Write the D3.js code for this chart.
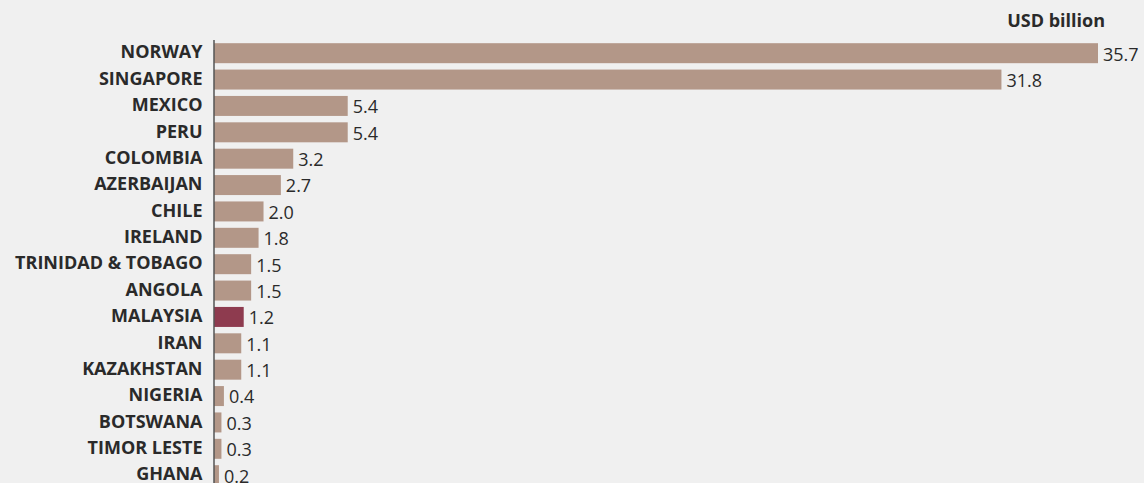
<!DOCTYPE html>
<html><head><meta charset="utf-8">
<script src="https://cdn.jsdelivr.net/npm/d3@7"></script>
<style>
html,body{margin:0;padding:0;background:#f0f0f0;}
svg{display:block;}
text{font-family:"Open Sans",sans-serif;}
</style></head>
<body>
<svg id="chart" width="1144" height="483"></svg>
<script>
const countries = ["NORWAY","SINGAPORE","MEXICO","PERU","COLOMBIA","AZERBAIJAN","CHILE","IRELAND","TRINIDAD & TOBAGO","ANGOLA","MALAYSIA","IRAN","KAZAKHSTAN","NIGERIA","BOTSWANA","TIMOR LESTE","GHANA"];
const values = [35.7,31.8,5.4,5.4,3.2,2.7,2.0,1.8,1.5,1.5,1.2,1.1,1.1,0.4,0.3,0.3,0.2];
const labels = ["35.7","31.8","5.4","5.4","3.2","2.7","2.0","1.8","1.5","1.5","1.2","1.1","1.1","0.4","0.3","0.3","0.2"];
const highlight = "MALAYSIA";
const unitLabel = "USD billion";

(function(){
const svg = d3.select("#chart");
const x0 = 214, plotTop = 40, step = 26.375;
const fs = 18;
const x = d3.scaleLinear().domain([0, 35.7]).range([x0, 1098]);
const y = d3.scaleBand().domain(countries).range([plotTop, plotTop + step*countries.length])
  .paddingInner(0.2417).paddingOuter(0.1208);

const data = countries.map((c,i)=>({c, v:values[i], l:labels[i]}));

svg.selectAll("rect.bar").data(data).join("rect")
  .attr("class","bar")
  .attr("x", x(0))
  .attr("y", d=>y(d.c))
  .attr("width", d=>x(d.v)-x(0))
  .attr("height", y.bandwidth())
  .attr("fill", d=> d.c===highlight ? "#8e3b4f" : "#b39788");

svg.selectAll("text.val").data(data).join("text")
  .attr("class","val")
  .attr("x", d=>x(d.v)+5)
  .attr("y", d=>y(d.c)+y.bandwidth()/2)
  .attr("dy","0.41em")
  .attr("font-size",fs)
  .attr("fill","#2a2a2a")
  .text(d=>d.l);

const yAxis = d3.axisLeft(y).tickSize(0).tickPadding(11.5);
const g = svg.append("g").attr("transform",`translate(${x0},0)`).call(yAxis);
g.select(".domain").remove();
g.selectAll("text").attr("font-size",fs).attr("font-weight","bold").attr("fill","#2a2a2a")
  .attr("font-family","'Open Sans',sans-serif").attr("dy","0.29em");

svg.append("line").attr("x1",x0).attr("x2",x0).attr("y1",plotTop).attr("y2",483)
  .attr("stroke","#555").attr("stroke-width",1.5);

svg.append("text").attr("x",1105).attr("y",26.5).attr("text-anchor","end")
  .attr("font-size",fs).attr("font-weight","bold").attr("fill","#2a2a2a").text(unitLabel);
})();
</script>
</body></html>
